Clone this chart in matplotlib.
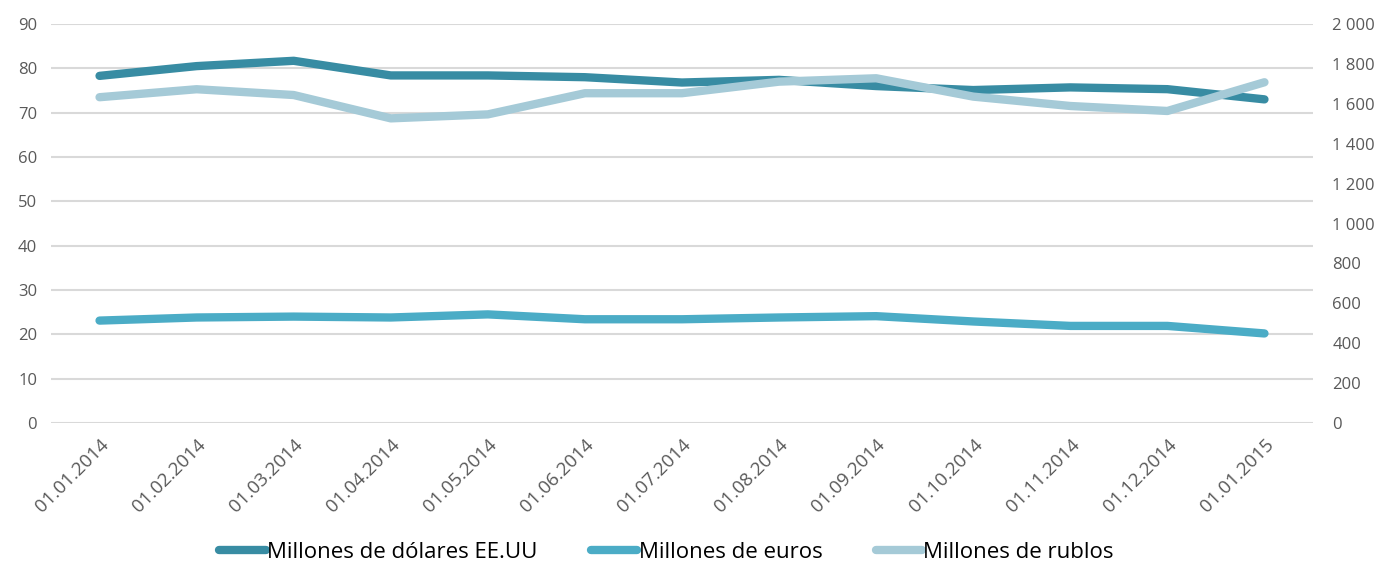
import matplotlib
matplotlib.use("Agg")
import matplotlib.pyplot as plt
from matplotlib.ticker import FuncFormatter

plt.rcParams['font.family'] = ['Open Sans', 'DejaVu Sans']

# Data
fechas = ['01.01.2014', '01.02.2014', '01.03.2014', '01.04.2014', '01.05.2014',
          '01.06.2014', '01.07.2014', '01.08.2014', '01.09.2014', '01.10.2014',
          '01.11.2014', '01.12.2014', '01.01.2015']
dolares = [78.3, 80.5, 81.7, 78.4, 78.4, 78.0, 76.8, 77.4, 76.0, 75.1, 75.7, 75.3, 73.0]
euros = [23.1, 23.8, 24.0, 23.8, 24.5, 23.4, 23.4, 23.8, 24.1, 22.9, 21.9, 21.9, 20.2]
rublos = [1633, 1673, 1644, 1527, 1547, 1653, 1653, 1711, 1728, 1636, 1589, 1564, 1708]

c_dol = '#388CA3'
c_eur = '#4BACC6'
c_rub = '#A5CAD7'
lw = 6

fig = plt.figure(figsize=(13.83, 5.66), dpi=100)
ax = fig.add_axes([51 / 1383, 1 - 423 / 566, 1262 / 1383, 399 / 566])
ax2 = ax.twinx()

x = range(len(fechas))
l1, = ax.plot(x, dolares, color=c_dol, lw=lw, solid_capstyle='round', zorder=3)
l2, = ax.plot(x, euros, color=c_eur, lw=lw, solid_capstyle='round', zorder=3)
l3, = ax2.plot(x, rublos, color=c_rub, lw=lw, solid_capstyle='round', zorder=3)

ax.set_xlim(-0.5, len(fechas) - 0.5)
ax.set_ylim(0, 90)
ax.set_yticks(range(0, 91, 10))
ax2.set_ylim(0, 2000)
ax2.set_yticks(range(0, 2001, 200))
ax2.yaxis.set_major_formatter(FuncFormatter(lambda v, p: f'{int(v):,}'.replace(',', ' ')))

ax.grid(axis='y', color='#D9D9D9', lw=1.5, zorder=0)
ax.set_axisbelow(True)
for a in (ax, ax2):
    for s in a.spines.values():
        s.set_visible(False)
    a.tick_params(length=0, labelsize=12, labelcolor='#595959')
ax.tick_params(axis='y', pad=10)
ax2.tick_params(axis='y', pad=14)

ax.set_xticks(list(x))
ax.set_xticklabels(fechas, rotation=45, ha='right', rotation_mode='anchor')
ax.tick_params(axis='x', pad=9, labelsize=13.5)

leg = fig.legend([l1, l2, l3],
                 ['Millones de dólares EE.UU', 'Millones de euros', 'Millones de rublos'],
                 loc='lower center', bbox_to_anchor=(0.482, -0.03), ncol=3,
                 frameon=False, fontsize=16, handlelength=2.1, handletextpad=0.05,
                 columnspacing=2.4)

fig.savefig('out.png', dpi=100)
